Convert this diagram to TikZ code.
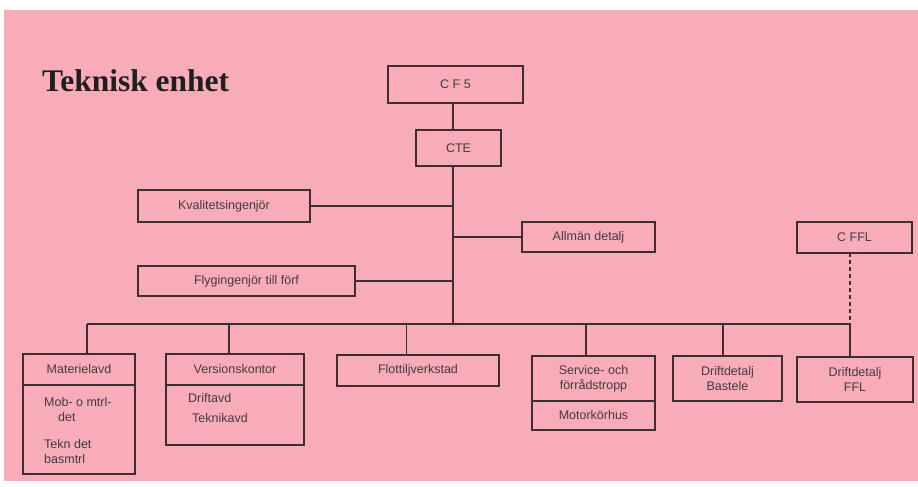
\documentclass[tikz,border=0pt]{standalone}
\usepackage{fontspec}
\setmainfont{Liberation Serif}
\setsansfont{Liberation Sans}
\usetikzlibrary{positioning}
\definecolor{SheetPink}{RGB}{247,172,184}
\definecolor{InkLine}{RGB}{62,46,50}
\definecolor{InkText}{RGB}{70,58,62}
\tikzset{
  orgbox/.style={draw=InkLine,line width=1.4pt,inner sep=0pt,outer sep=0pt,
    align=center,font=\sffamily\fontsize{12.5}{15}\selectfont,text=InkText},
  subtext/.style={inner sep=0pt,align=left,
    font=\sffamily\fontsize{12.5}{15}\selectfont,text=InkText},
  link/.style={draw=InkLine,line width=1.4pt},
  thinlink/.style={draw=InkLine,line width=0.9pt},
  dashlink/.style={link,dash pattern=on 4pt off 3pt}
}

\begin{document}
\begin{tikzpicture}[x=1pt,y=-1pt]
  \useasboundingbox (0,0) rectangle (918,487);
  \fill[white] (0,0) rectangle (918,487);
  \fill[SheetPink] (4,10) rectangle (918,481);

  \node[anchor=base west,inner sep=0pt,text=black!88,
    font=\bfseries\fontsize{31.5}{36}\selectfont] (title) at (42,92) {Teknisk enhet};

  % ledning
  \node[orgbox,minimum width=135pt,minimum height=37pt] (cf5) at (455.5,84.5) {C F 5};
  \node[orgbox,minimum width=85pt,minimum height=36pt] (cte) at (458.5,148) {CTE};
  \node[orgbox,minimum width=172pt,minimum height=32pt] (kval) at (224,206) {Kvalitetsingenjör};
  \node[orgbox,minimum width=133pt,minimum height=30pt] (allman) at (588.5,237) {Allmän detalj};
  \node[orgbox,minimum width=217pt,minimum height=30pt] (flyg) at (246.5,281) {Flygingenjör till förf};
  \node[orgbox,minimum width=115pt,minimum height=31pt] (cffl) at (854.5,237.5) {C FFL};

  % avdelningar
  \node[orgbox,anchor=north west,minimum width=112pt,minimum height=31pt] (mathead) at (23,354) {Materielavd};
  \node[orgbox,below=0pt of mathead,minimum width=112pt,minimum height=89pt] (matbody) {};
  \node[subtext,anchor=north west] (matsub) at (44,397) {Mob- o mtrl-\\\hspace{14pt}det\\[12pt]Tekn det\\basmtrl};

  \node[orgbox,anchor=north west,minimum width=138pt,minimum height=31pt] (vershead) at (166,354) {Versionskontor};
  \node[orgbox,below=0pt of vershead,minimum width=138pt,minimum height=60pt] (versbody) {};
  \node[subtext,anchor=north west] (verssub) at (188,393) {Driftavd\\[5pt]\hspace{4pt}Teknikavd};

  \node[orgbox,anchor=north west,minimum width=162pt,minimum height=31pt] (flott) at (337,355) {Flottiljverkstad};

  \node[orgbox,anchor=north west,minimum width=123pt,minimum height=45pt] (servhead) at (532,356) {Service- och\\förrådstropp};
  \node[orgbox,below=0pt of servhead,minimum width=123pt,minimum height=29pt] (servbody) {Motorkörhus};

  \node[orgbox,anchor=north west,minimum width=109pt,minimum height=45pt] (bast) at (673,356) {Driftdetalj\\Bastele};
  \node[orgbox,anchor=north west,minimum width=116pt,minimum height=45pt] (ffl) at (797,357) {Driftdetalj\\FFL};

  % linjer
  \coordinate (bus) at (453,324);
  \coordinate (dropmat) at (87,324);
  \coordinate (dropvers) at (229,324);
  \coordinate (dropflott) at (406,324);
  \coordinate (dropserv) at (586,324);
  \coordinate (dropbast) at (723,324);
  \coordinate (dropffl) at (850,324);

  \draw[link] (cf5.south -| bus) -- (cte.north -| bus);
  \draw[link] (cte.south -| bus) -- (bus);
  \draw[link] (kval.east) -- (kval.east -| bus);
  \draw[link] (allman.west) -- (allman.west -| bus);
  \draw[link] (flyg.east) -- (flyg.east -| bus);
  \draw[dashlink] (cffl.south -| dropffl) -- (dropffl);

  \draw[link] (dropmat) -- (dropffl);
  \draw[link] (dropmat) -- (dropmat |- mathead.north);
  \draw[link] (dropvers) -- (dropvers |- vershead.north);
  \draw[thinlink] (dropflott) -- (dropflott |- flott.north);
  \draw[link] (dropserv) -- (dropserv |- servhead.north);
  \draw[link] (dropbast) -- (dropbast |- bast.north);
  \draw[link] (dropffl) -- (dropffl |- ffl.north);
\end{tikzpicture}
\end{document}
